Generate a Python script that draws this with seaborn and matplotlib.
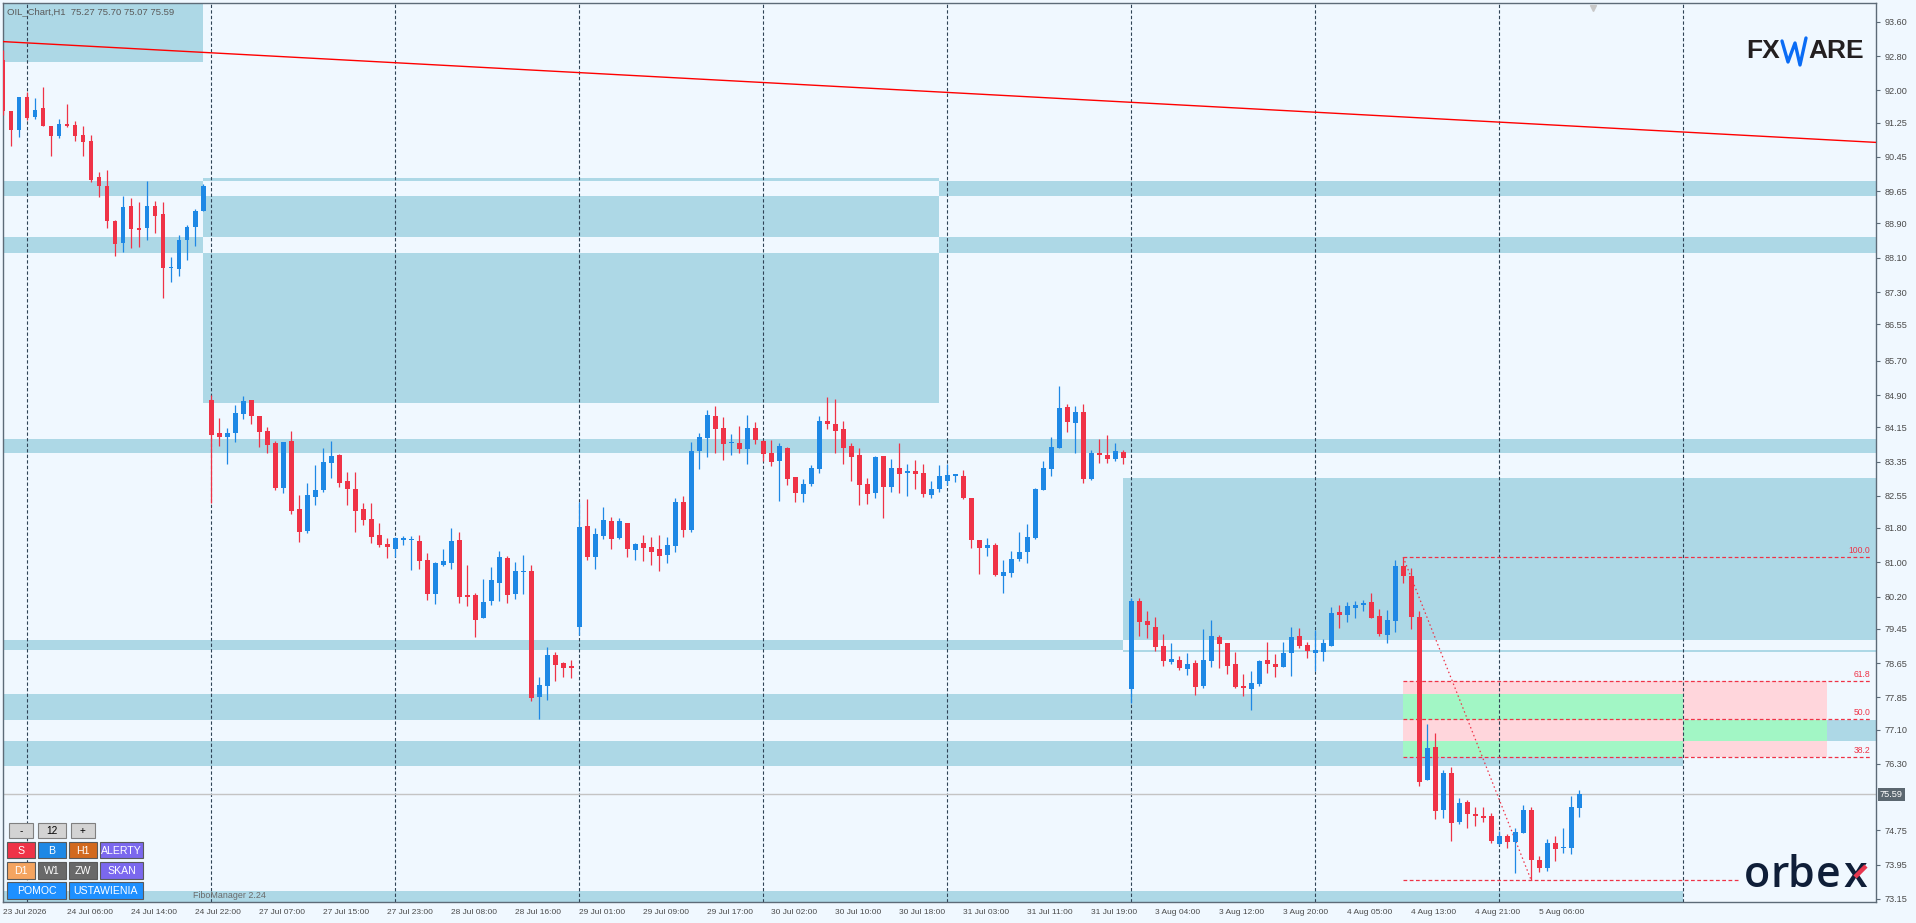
"""
OIL H1 chart with supply/demand zones and a Fibonacci retracement.
"""
import numpy as np
import matplotlib
matplotlib.use("Agg")
import matplotlib.pyplot as plt
import seaborn as sns
from matplotlib.patches import Rectangle
from matplotlib.lines import Line2D
from matplotlib.transforms import blended_transform_factory

# ---------------------------------------------------------
# Data
# ---------------------------------------------------------
symbol_title = "OIL_Chart,H1  75.27 75.70 75.07 75.59"

opens = [92.70, 91.52, 91.07, 91.86, 91.38, 91.59, 91.17, 90.93, 91.21, 91.19,
         90.96, 90.82, 89.98, 89.77, 88.95, 88.44, 89.30, 88.79, 88.79, 89.30,
         89.11, 87.85, 87.83, 88.51, 88.81, 89.18, 84.78, 84.01, 83.93, 84.01,
         84.46, 84.78, 84.41, 84.06, 83.78, 82.73, 83.83, 82.24, 81.73, 82.52,
         82.68, 83.31, 83.50, 82.89, 82.71, 82.24, 82.01, 81.63, 81.43, 81.31,
         81.53, 81.51, 81.49, 81.05, 80.26, 80.93, 80.98, 81.52, 80.24, 80.24,
         79.70, 80.10, 80.52, 81.10, 80.26, 80.77, 80.80, 77.86, 78.12, 78.84,
         78.65, 78.58, 79.49, 81.85, 81.12, 81.61, 81.96, 81.56, 81.91, 81.29,
         81.45, 81.35, 81.31, 81.17, 81.38, 82.40, 81.75, 83.59, 83.90, 84.41,
         84.13, 83.77, 83.78, 83.64, 84.13, 83.83, 83.55, 83.36, 83.66, 82.99,
         82.59, 82.82, 83.17, 84.29, 84.22, 84.11, 83.71, 83.50, 82.82, 82.61,
         83.48, 82.75, 83.20, 83.09, 83.13, 83.08, 82.57, 82.71, 82.89, 83.02,
         83.01, 82.50, 81.52, 81.33, 81.40, 80.68, 80.75, 81.08, 81.24, 81.57,
         82.68, 83.17, 83.66, 84.62, 84.25, 84.50, 82.94, 83.55, 83.50, 83.41,
         83.57, 78.05, 80.10, 79.63, 79.49, 79.05, 78.67, 78.72, 78.51, 78.65,
         78.11, 78.69, 79.26, 79.12, 78.63, 78.12, 78.05, 78.16, 78.72, 78.63,
         78.56, 78.88, 79.28, 79.07, 78.88, 78.91, 79.05, 79.84, 79.77, 79.93,
         80.00, 80.07, 79.75, 79.30, 79.63, 80.91, 80.68, 79.72, 75.92, 76.69,
         75.22, 76.09, 74.94, 75.41, 75.13, 75.09, 75.09, 74.43, 74.62, 74.48,
         74.69, 75.22, 74.06, 73.87, 74.46, 74.34, 74.34, 75.27]
highs = [92.95, 91.52, 91.86, 91.96, 91.82, 92.07, 91.17, 91.33, 91.68, 91.28,
         91.17, 90.96, 90.09, 90.14, 88.99, 89.53, 89.49, 89.39, 89.88, 89.42,
         89.39, 88.11, 88.62, 88.86, 89.23, 89.81, 84.90, 84.36, 84.13, 84.67,
         84.88, 84.78, 84.41, 84.15, 83.83, 83.80, 84.06, 82.57, 82.85, 83.27,
         83.66, 83.83, 83.52, 83.10, 83.10, 82.38, 82.38, 81.91, 81.57, 81.59,
         81.61, 81.61, 81.63, 81.22, 81.00, 81.31, 81.80, 81.70, 80.94, 80.28,
         80.61, 80.89, 81.26, 81.14, 81.00, 81.17, 80.94, 78.33, 79.02, 78.91,
         78.67, 78.72, 82.40, 82.47, 81.80, 82.29, 82.05, 82.03, 81.91, 81.45,
         81.63, 81.59, 81.63, 81.59, 82.50, 82.54, 83.80, 84.01, 84.55, 84.64,
         84.39, 83.99, 84.18, 84.43, 84.27, 83.85, 83.85, 83.78, 83.69, 82.99,
         82.94, 83.27, 84.41, 84.85, 84.80, 84.29, 83.78, 83.66, 82.96, 83.48,
         83.48, 83.41, 83.78, 83.29, 83.38, 83.29, 82.89, 83.27, 83.29, 83.06,
         83.15, 82.50, 81.52, 81.56, 81.45, 81.05, 81.26, 81.70, 81.89, 82.73,
         83.36, 83.92, 85.11, 84.69, 84.64, 84.69, 83.62, 83.87, 83.97, 83.78,
         83.62, 80.16, 80.17, 79.86, 79.72, 79.33, 79.11, 78.81, 78.88, 78.72,
         79.44, 79.65, 79.30, 79.12, 78.91, 78.40, 78.46, 78.72, 79.14, 78.86,
         79.14, 79.49, 79.47, 79.14, 79.42, 79.21, 79.96, 80.00, 80.07, 80.10,
         80.12, 80.28, 79.91, 79.89, 81.05, 81.12, 80.87, 79.86, 77.23, 77.02,
         76.16, 76.23, 75.50, 75.46, 75.30, 75.30, 75.16, 74.74, 74.67, 74.80,
         75.34, 75.29, 74.15, 74.55, 74.62, 74.80, 75.55, 75.70]
lows = [91.42, 90.70, 90.91, 91.32, 91.33, 91.17, 90.47, 90.89, 91.14, 90.82,
        90.47, 89.86, 89.51, 88.79, 88.13, 88.23, 88.32, 88.34, 88.51, 88.67,
        87.16, 87.53, 87.67, 88.04, 88.37, 89.18, 82.39, 83.71, 83.29, 83.80,
        84.34, 84.22, 83.69, 83.55, 82.68, 82.61, 82.12, 81.47, 81.68, 82.33,
        82.64, 82.96, 82.75, 82.33, 81.70, 81.87, 81.45, 81.36, 81.10, 81.12,
        81.40, 80.82, 80.84, 80.12, 80.03, 80.91, 80.84, 80.05, 79.98, 79.26,
        79.70, 80.00, 80.10, 80.05, 80.14, 80.26, 77.77, 77.35, 77.79, 78.23,
        78.32, 78.30, 79.30, 81.05, 80.84, 81.54, 81.31, 81.54, 81.12, 81.05,
        81.03, 80.94, 80.80, 80.98, 81.24, 81.59, 81.70, 83.17, 83.45, 83.55,
        83.38, 83.50, 83.55, 83.29, 83.76, 83.36, 83.24, 82.43, 82.80, 82.40,
        82.40, 82.78, 83.08, 84.10, 83.55, 83.29, 82.89, 82.33, 82.36, 82.50,
        82.03, 82.64, 82.61, 82.54, 82.71, 82.52, 82.50, 82.64, 82.80, 82.87,
        82.47, 81.33, 80.73, 81.15, 80.68, 80.28, 80.66, 81.03, 80.98, 81.54,
        82.68, 83.01, 83.66, 84.04, 83.55, 82.85, 82.92, 83.31, 83.31, 83.36,
        83.29, 77.72, 79.28, 79.23, 78.93, 78.58, 78.63, 78.49, 78.37, 77.91,
        78.07, 78.56, 78.54, 78.40, 78.07, 77.88, 77.56, 78.12, 78.41, 78.33,
        78.56, 78.35, 79.00, 78.77, 78.47, 78.70, 79.05, 79.47, 79.61, 79.70,
        79.86, 79.70, 79.28, 79.12, 79.37, 80.52, 79.44, 75.78, 75.92, 75.02,
        75.04, 74.50, 74.90, 74.80, 74.85, 74.94, 74.46, 74.41, 74.34, 73.76,
        74.69, 73.59, 73.78, 73.80, 74.04, 74.22, 74.20, 75.07]
closes = [91.52, 91.07, 91.84, 91.35, 91.54, 91.17, 90.93, 91.21, 91.18, 90.93,
          90.79, 89.91, 89.77, 88.95, 88.41, 89.28, 88.76, 88.74, 89.30, 89.07,
          87.86, 87.86, 88.51, 88.81, 89.18, 89.77, 83.97, 83.93, 84.01, 84.48,
          84.76, 84.41, 84.04, 83.73, 82.73, 83.80, 82.20, 81.71, 82.57, 82.68,
          83.34, 83.48, 82.85, 82.71, 82.20, 81.98, 81.59, 81.40, 81.36, 81.57,
          81.55, 81.52, 81.03, 80.26, 80.98, 81.03, 81.49, 80.19, 80.19, 79.65,
          80.07, 80.59, 81.12, 80.24, 80.80, 80.80, 77.84, 78.14, 78.84, 78.60,
          78.54, 78.54, 81.82, 81.12, 81.66, 81.98, 81.54, 81.96, 81.31, 81.43,
          81.33, 81.24, 81.15, 81.40, 82.40, 81.75, 83.59, 83.92, 84.43, 84.11,
          83.76, 83.79, 83.64, 84.13, 83.85, 83.52, 83.34, 83.71, 82.94, 82.61,
          82.82, 83.20, 84.29, 84.22, 84.06, 83.66, 83.45, 82.80, 82.59, 83.45,
          82.75, 83.20, 83.06, 83.10, 83.06, 82.59, 82.71, 83.01, 83.03, 83.03,
          82.50, 81.52, 81.33, 81.40, 80.70, 80.77, 81.07, 81.24, 81.59, 82.71,
          83.20, 83.69, 84.60, 84.27, 84.50, 82.94, 83.55, 83.50, 83.41, 83.59,
          83.43, 80.10, 79.61, 79.54, 79.02, 78.70, 78.74, 78.53, 78.63, 78.09,
          78.72, 79.28, 79.09, 78.58, 78.09, 78.07, 78.19, 78.70, 78.63, 78.56,
          78.88, 79.26, 79.05, 78.93, 78.95, 79.12, 79.82, 79.77, 79.98, 80.00,
          80.05, 79.70, 79.33, 79.65, 80.91, 80.68, 79.72, 75.88, 76.67, 75.20,
          76.09, 74.92, 75.39, 75.13, 75.09, 75.04, 74.50, 74.62, 74.48, 74.71,
          75.22, 74.06, 73.87, 74.46, 74.32, 74.36, 75.30, 75.59]

# time axis: one label every 8 bars
time_labels = ["23 Jul 2026", "24 Jul 06:00", "24 Jul 14:00", "24 Jul 22:00",
               "27 Jul 07:00", "27 Jul 15:00", "27 Jul 23:00", "28 Jul 08:00",
               "28 Jul 16:00", "29 Jul 01:00", "29 Jul 09:00", "29 Jul 17:00",
               "30 Jul 02:00", "30 Jul 10:00", "30 Jul 18:00", "31 Jul 03:00",
               "31 Jul 11:00", "31 Jul 19:00", "3 Aug 04:00", "3 Aug 12:00",
               "3 Aug 20:00", "4 Aug 05:00", "4 Aug 13:00", "4 Aug 21:00",
               "5 Aug 06:00"]
price_ticks = [93.60, 92.80, 92.00, 91.25, 90.45, 89.65, 88.90, 88.10, 87.30,
               86.55, 85.70, 84.90, 84.15, 83.35, 82.55, 81.80, 81.00, 80.20,
               79.45, 78.65, 77.85, 77.10, 76.30, 74.75, 73.95, 73.15]
separator_bars = [3, 26, 49, 72, 95, 118, 141, 164, 187, 210]

# blue zones: bar start, bar end, low price, high price
zone_start = [-1, -1, -1, 25.0, -1, 140.0, -1, -1, -1, 210.0, -1]
zone_end = [25.0, 240, 240, 117.0, 240, 240, 240, 210.0, 210.0, 240, 210.0]
zone_low = [92.66, 89.54, 88.21, 84.71, 83.55, 78.91, 78.95, 77.32, 76.26, 76.83, 72.90]
zone_high = [94.50, 89.89, 88.58, 89.95, 83.87, 82.96, 79.19, 77.93, 76.83, 77.32, 73.34]

# trend line anchors
trend_bars = [0, 234.1]
trend_prices = [93.14, 90.79]

# fibonacci retracement
fib_high_bar = 175
fib_low_bar = 191
fib_levels = [0.0, 38.2, 50.0, 61.8, 100.0]
fib_zone_levels = (38.2, 61.8)
fib_zone_end = 228

# bottom-left panel buttons
button_rows = [["-", "12", "+"],
               ["S", "B", "H1", "ALERTY"],
               ["D1", "W1", "ZW", "SKAN"],
               ["POMOC", "USTAWIENIA"]]

# ---------------------------------------------------------
# Colours
# ---------------------------------------------------------
BG = "#F0F8FF"
BULL = "#1E88E5"
BEAR = "#EF3347"
BG_RGB = np.array([240, 248, 255], dtype=np.uint8)
ZONE_RGB = np.array([173, 216, 230], dtype=np.uint8)
FIB_RGB = np.array([255, 214, 220], dtype=np.uint8)
TXT = "#4A4A4A"
SPINE = "#5D6B78"
NAVY = "#0F1E38"

W, H, DPI = 1916, 923, 100
XMAX = 234.1
YMIN, YMAX = 73.08, 94.04

sns.set_style("white")
plt.rcParams["font.family"] = ["Liberation Sans", "DejaVu Sans"]

fig = plt.figure(figsize=(W / DPI, H / DPI), dpi=DPI, facecolor=BG)
ax = fig.add_axes([3 / W, 1 - 902 / H, (1876 - 3) / W, (902 - 3) / H])
ax.set_facecolor(BG)

# ---------------------------------------------------------
# Zones, drawn the MT4 way (XOR against the background)
# ---------------------------------------------------------
ncol, nrow = 1873, 899
xc = (np.arange(ncol) + 0.5) * XMAX / ncol
yc = YMIN + (np.arange(nrow) + 0.5) * (YMAX - YMIN) / nrow
gx, gy = np.meshgrid(xc, yc)
img = np.empty((nrow, ncol, 3), dtype=np.uint8)
img[:] = BG_RGB


def xor_rect(x0, x1, lo, hi, rgb):
    m = (gx >= x0) & (gx < x1) & (gy >= lo) & (gy < hi)
    img[m] ^= np.bitwise_xor(BG_RGB, rgb)


for x0, x1, lo, hi in zip(zone_start, zone_end, zone_low, zone_high):
    xor_rect(x0, x1, lo, hi, ZONE_RGB)

fib_hi = highs[fib_high_bar]
fib_lo = lows[fib_low_bar]
fib_price = {lv: fib_lo + lv / 100 * (fib_hi - fib_lo) for lv in fib_levels}
xor_rect(fib_high_bar, fib_zone_end, fib_price[fib_zone_levels[0]],
         fib_price[fib_zone_levels[1]], FIB_RGB)

ax.imshow(img, extent=(0, XMAX, YMIN, YMAX), origin="lower", aspect="auto",
          interpolation="nearest", zorder=0)

# period separators
ax.vlines(separator_bars, YMIN, YMAX, colors="#2F4356", linestyles=(0, (3, 2)),
          lw=0.8, zorder=2)

# current price line
ax.axhline(closes[-1], color="#C4C4C4", lw=1, zorder=2)

# trend line
sns.lineplot(x=trend_bars, y=trend_prices, ax=ax, color="#FF0000", lw=1.0,
             zorder=3, legend=False)

# fibonacci levels
for lv in fib_levels:
    end = 216.8 if lv == 0.0 else 233.4
    ax.hlines(fib_price[lv], fib_high_bar, end, colors=BEAR,
              linestyles=(0, (3, 2)), lw=0.9, zorder=3)
    if lv > 0:
        ax.annotate(f"{lv:.1f}", xy=(233.4, fib_price[lv]), xytext=(0, 2),
                    textcoords="offset pixels", ha="right", va="bottom",
                    color=BEAR, fontsize=6.2, zorder=4)
sns.lineplot(x=[fib_high_bar, fib_low_bar], y=[fib_hi, fib_lo], ax=ax,
             color=BEAR, lw=0.9, linestyle=(0, (1.2, 2.2)), zorder=3, legend=False)

# ---------------------------------------------------------
# Candles
# ---------------------------------------------------------
idx = np.arange(len(opens))
o = np.array(opens)
c = np.array(closes)
cols = [BULL if cc >= oo else BEAR for oo, cc in zip(o, c)]
ax.vlines(idx, lows, highs, colors=cols, lw=0.9, zorder=5)
body_lo = np.minimum(o, c)
body_h = np.maximum(np.abs(c - o), 0.03)
ax.bar(idx, body_h, bottom=body_lo, width=0.62, color=cols, lw=0, zorder=6)

# ---------------------------------------------------------
# Axes
# ---------------------------------------------------------
ax.set_xlim(0, XMAX)
ax.set_ylim(YMIN, YMAX)
ax.set_xticks(np.arange(len(time_labels)) * 8)
ax.set_xticklabels(time_labels)
for lab in ax.get_xticklabels():
    lab.set_ha("left")
ax.yaxis.tick_right()
ax.set_yticks(price_ticks)
ax.set_yticklabels([f"{p:.2f}" for p in price_ticks])
ax.tick_params(axis="x", length=3, width=0.8, color=SPINE, pad=2,
               labelsize=6.0, labelcolor=TXT)
ax.tick_params(axis="y", length=3, width=0.8, color=SPINE, pad=3,
               labelsize=6.6, labelcolor=TXT)
for sp in ax.spines.values():
    sp.set_color(SPINE)
    sp.set_linewidth(1)
ax.grid(False)

ax.annotate(f"{closes[-1]:.2f}", xy=(1, closes[-1]),
            xycoords=("axes fraction", "data"), xytext=(4, 0),
            textcoords="offset pixels", ha="left", va="center", color="white",
            fontsize=6.6, annotation_clip=False,
            bbox=dict(boxstyle="square,pad=0.2", fc="#5B6770", ec="none"))

# chart shift marker
tr = blended_transform_factory(ax.transData, ax.transAxes)
ax.plot([198.7], [0.994], marker="v", color="#C8C8C8", markersize=5,
        transform=tr, clip_on=False, zorder=7)

ax.text(4 / 1873, 1 - 4 / 899, symbol_title, transform=ax.transAxes,
        ha="left", va="top", fontsize=6.8, color="#5A5A5A", zorder=8)


# ---------------------------------------------------------
# Overlays in pixel space (buttons, logos)
# ---------------------------------------------------------
def fx(x):
    return x / W


def fy(y):
    return 1 - y / H


row_boxes = [[(9, 33), (38, 66), (71, 95)],
             [(7, 35), (38, 66), (69, 97), (100, 143)],
             [(7, 35), (38, 66), (69, 97), (100, 143)],
             [(7, 66), (69, 143)]]
row_y = [(823, 838), (842, 858), (862, 879), (882, 899)]
row_colors = [["#D3D3D3"] * 3,
              [BEAR, BULL, "#D2691E", "#7B68EE"],
              ["#F4A460", "#696969", "#696969", "#7B68EE"],
              ["#1E90FF", "#1E90FF"]]
for r, labels in enumerate(button_rows):
    y0, y1 = row_y[r]
    for lab, (x0, x1), colr in zip(labels, row_boxes[r], row_colors[r]):
        ec = "#808080" if r == 0 else "#5A5A5A"
        fig.add_artist(Rectangle((fx(x0), fy(y1)), fx(x1) - fx(x0), fy(y0) - fy(y1),
                                 transform=fig.transFigure, fc=colr, ec=ec,
                                 lw=0.8, zorder=10))
        fig.text(fx((x0 + x1) / 2), fy((y0 + y1) / 2 + 0.5), lab, ha="center",
                 va="center", fontsize=7.6 if r else 7.2,
                 color="black" if r == 0 else "white", zorder=11)

fig.text(fx(193), fy(895), "FiboManager 2.24", ha="left", va="center",
         fontsize=6.4, color="#6A6A6A", zorder=9)

# FXWARE logo: dark letters with a blue zigzag "W"
fig.text(fx(1780), fy(51), "FX", ha="right", va="center", fontsize=19,
         fontweight="bold", color="#231F20", zorder=9)
fig.text(fx(1808), fy(51), "ARE", ha="left", va="center", fontsize=19,
         fontweight="bold", color="#231F20", zorder=9)
wx = [1782, 1788, 1795, 1800, 1806]
wy = [41, 62, 43, 65, 38]
fig.add_artist(Line2D([fx(v) for v in wx], [fy(v) for v in wy],
                      transform=fig.transFigure, color="#0A6CF5", lw=2.4,
                      solid_joinstyle="round", solid_capstyle="round", zorder=9))

# orbex logo, letter by letter
for ch, cx in zip("orbex", [1757.5, 1780, 1800.5, 1828, 1855]):
    fig.text(fx(cx), fy(887), ch, ha="center", va="baseline", fontsize=31,
             family="Open Sans", fontweight="semibold", color=NAVY, zorder=9)
fig.add_artist(Line2D([fx(1866), fx(1855)], [fy(866), fy(877)],
                      transform=fig.transFigure, color="#E8374F", lw=3.2,
                      solid_capstyle="butt", zorder=10))

fig.savefig("out.png", dpi=DPI, facecolor=BG)
